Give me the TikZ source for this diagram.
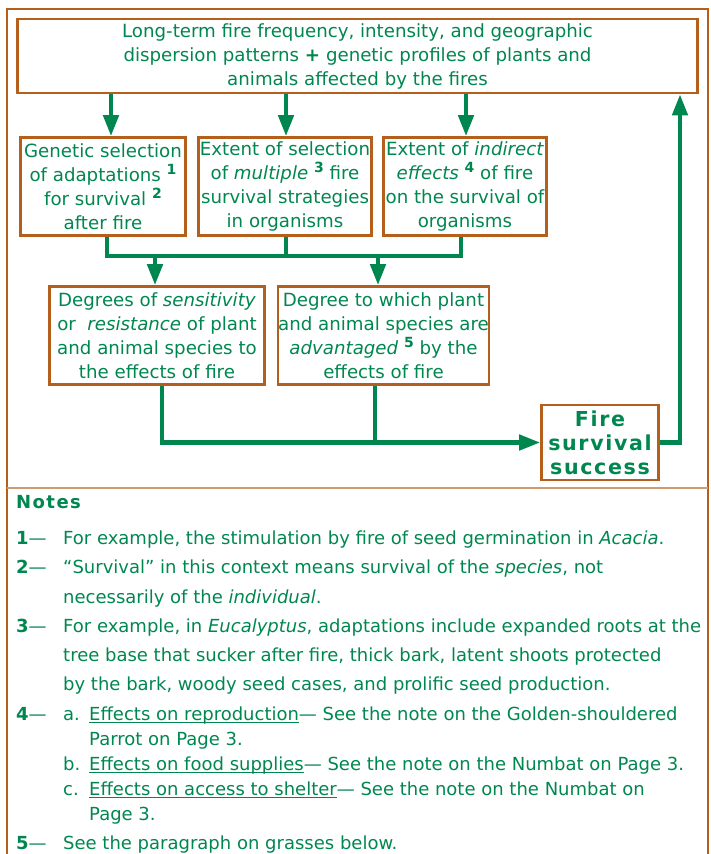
\documentclass[tikz,border=0pt]{standalone}
\usepackage{fontspec}
\setmainfont{DejaVu Sans}
\newfontfamily\spacedfont[LetterSpace=8]{DejaVu Sans}
\usepackage{tikz}
\usetikzlibrary{arrows.meta}
\usetikzlibrary{positioning}
\definecolor{firegreen}{RGB}{0,135,80}
\definecolor{firebrown}{RGB}{180,96,28}
\definecolor{sandline}{RGB}{208,155,110}
\newcommand{\fnum}[1]{\raisebox{0.4em}{\fontsize{14}{14}\selectfont\bfseries #1}}
\newsavebox{\ulbox}
\newcommand{\ulinetext}[1]{\sbox{\ulbox}{#1}\rlap{\usebox{\ulbox}}\rule[-3pt]{\wd\ulbox}{0.9pt}}

\begin{document}
\begin{tikzpicture}[x=1pt,y=-1pt,
	box/.style={draw=firebrown, line width=2.6pt, fill=white, text=firegreen, align=center, inner sep=0pt, font=\fontsize{18.2}{24}\selectfont},
	flow/.style={draw=firegreen, line width=4.5pt},
	arr/.style={flow, -{Triangle[length=21pt,width=15pt]}},
	note/.style={anchor=base west, inner sep=0pt, text=firegreen, font=\fontsize{18}{24}\selectfont}]
				\useasboundingbox (0,0) rectangle (711,854);
				
				% Frame
				\draw[firebrown, line width=2pt] (7,854) -- (7,9) -- (708,9) -- (708,854);
				\draw[sandline, line width=1.5pt] (7,488) -- (708,488);
				
				% Boxes
				\node[box, minimum width=680pt, minimum height=74pt] (source) at (357.5,56) {Long-term fire frequency, intensity, and geographic\\ dispersion patterns \textbf{+} genetic profiles of plants and\\ animals affected by the fires};
				
				\node[box, minimum width=165pt, minimum height=98pt] (adapt) at (103,186.5) {Genetic selection\\ of adaptations \fnum{1}\\ for survival \fnum{2}\\ after fire};
				\node[box, minimum width=173pt, minimum height=98pt] (multiple) at (285,186.5) {Extent of selection\\ of \emph{multiple} \fnum{3} fire\\ survival strategies\\ in organisms};
				\node[box, minimum width=163pt, minimum height=98pt] (indirect) at (465,186.5) {Extent of \emph{indirect}\\ \emph{effects} \fnum{4} of fire\\ on the survival of\\ organisms};
				
				\node[box, minimum width=215pt, minimum height=98pt] (sensitive) at (157,335.5) {Degrees of \emph{sensitivity}\\ or\ \ \emph{resistance} of plant\\ and animal species to\\ the effects of fire};
				\node[box, minimum width=210pt, minimum height=98pt] (advantaged) at (383.5,335.5) {Degree to which plant\\ and animal species are\\ \emph{advantaged} \fnum{5} by the\\ effects of fire};
				
				\node[box, minimum width=117pt, minimum height=75pt, font={\fontsize{20.6}{24}\spacedfont\bfseries}] (success) at (600,442.5) {Fire\\ survival\\ success};
				
				% Junctions
				\coordinate (split) at (0,256);
				\coordinate (loop) at (680,0);
				
				% Arrows
				\draw[arr] ([xshift=8pt]adapt.north |- source.south) -- ([xshift=8pt]adapt.north);
				\draw[arr] ([xshift=1pt]multiple.north |- source.south) -- ([xshift=1pt]multiple.north);
				\draw[arr] ([xshift=1pt]indirect.north |- source.south) -- ([xshift=1pt]indirect.north);
				
				\draw[flow] ([xshift=4pt]adapt.south) -- ([xshift=4pt]adapt.south |- split) -- ([xshift=-4pt]indirect.south |- split) -- ([xshift=-4pt]indirect.south);
				\draw[flow] ([xshift=1pt]multiple.south) -- ([xshift=1pt]multiple.south |- split);
				\draw[arr] ([xshift=-2pt]sensitive.north |- split) -- ([xshift=-2pt]sensitive.north);
				\draw[arr] ([xshift=-5.5pt]advantaged.north |- split) -- ([xshift=-5.5pt]advantaged.north);
				
				\draw[arr] ([xshift=5pt]sensitive.south) -- ([xshift=5pt]sensitive.south |- success.west) -- (success.west);
				\draw[flow] ([xshift=-8.5pt]advantaged.south) -- ([xshift=-8.5pt]advantaged.south |- success.west);
				\draw[arr] (success.east) -- (loop |- success.east) -- (loop |- source.south);
				
				% Notes
				\node[note, font={\fontsize{18}{24}\spacedfont\bfseries}] (notes) at (16,508) {Notes};
				
				\node[note] (k1) at (16,544) {\textbf{1}—};
				\node[note] (t1) at (63,544) {For example, the stimulation by fire of seed germination in \emph{Acacia}.};
				
				\node[note] (k2) at (16,573) {\textbf{2}—};
				\node[note] (t2) at (63,573) {“Survival” in this context means survival of the \emph{species}, not};
				\node[note] (t2b) at (63,603) {necessarily of the \emph{individual}.};
				
				\node[note] (k3) at (16,632) {\textbf{3}—};
				\node[note] (t3) at (63,632) {For example, in \emph{Eucalyptus}, adaptations include expanded roots at the};
				\node[note] (t3b) at (63,661) {tree base that sucker after fire, thick bark, latent shoots protected};
				\node[note] (t3c) at (63,690) {by the bark, woody seed cases, and prolific seed production.};
				
				\node[note] (k4) at (16,720) {\textbf{4}—};
				\node[note] (l4a) at (63,720) {a.};
				\node[note] (t4a) at (89,720) {\ulinetext{Effects on reproduction}— See the note on the Golden-shouldered};
				\node[note] (t4ab) at (89,745) {Parrot on Page 3.};
				\node[note] (l4b) at (63,770) {b.};
				\node[note] (t4b) at (89,770) {\ulinetext{Effects on food supplies}— See the note on the Numbat on Page 3.};
				\node[note] (l4c) at (63,795) {c.};
				\node[note] (t4c) at (89,795) {\ulinetext{Effects on access to shelter}— See the note on the Numbat on};
				\node[note] (t4cb) at (89,820) {Page 3.};
				
				\node[note] (k5) at (16,849) {\textbf{5}—};
				\node[note] (t5) at (63,849) {See the paragraph on grasses below.};
\end{tikzpicture}
\end{document}
